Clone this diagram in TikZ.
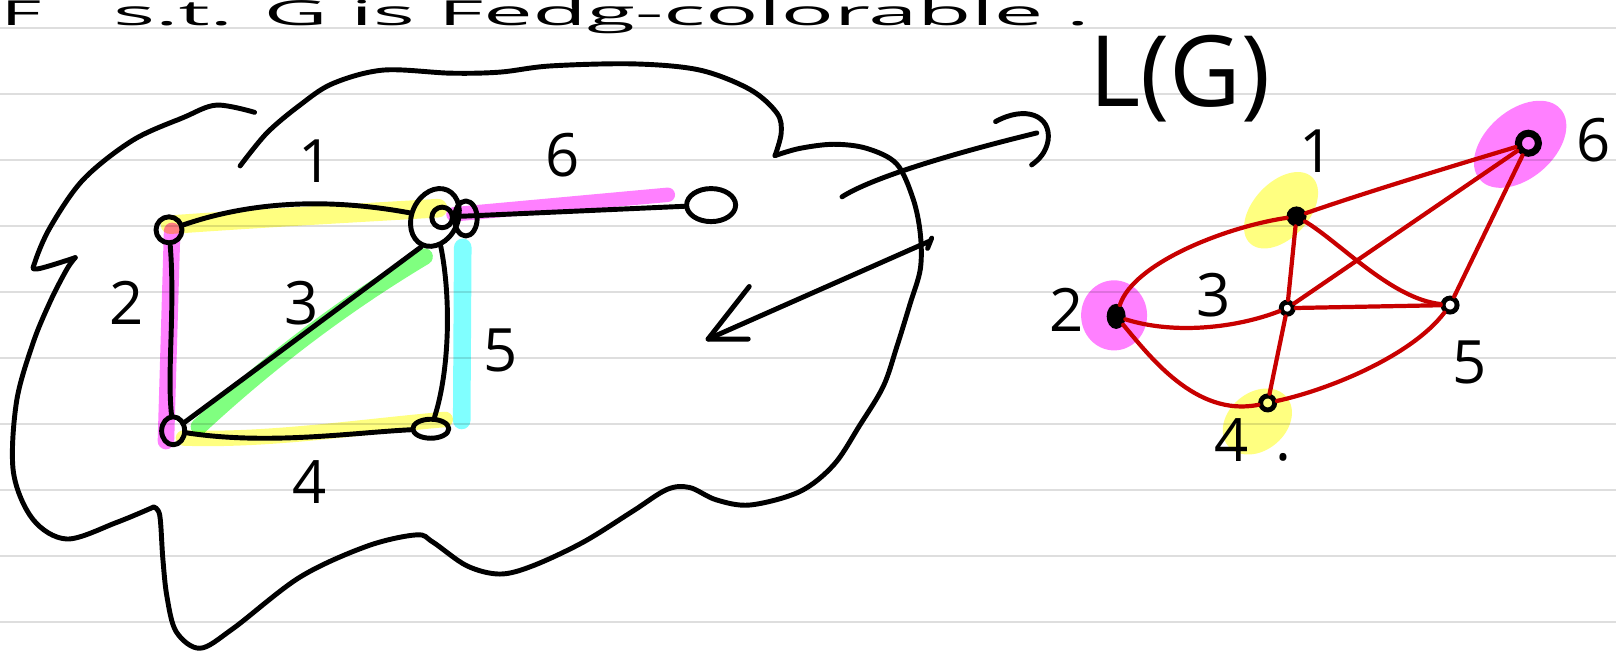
\documentclass[tikz,border=0pt]{standalone}
\usepackage{fontspec}
\setmainfont{Open Sans}
\usetikzlibrary{shapes.geometric}
\definecolor{hlyellow}{RGB}{255,255,128}
\definecolor{hlmagenta}{RGB}{255,128,255}
\definecolor{hlgreen}{RGB}{128,255,128}
\definecolor{hlcyan}{RGB}{128,255,255}
\definecolor{inkred}{RGB}{200,0,0}
\definecolor{ruled}{RGB}{222,222,222}
\begin{document}
\begin{tikzpicture}[x=0.0103061cm, y=-0.0103061cm,
  pen/.style={line width=1.4pt, line cap=round, line join=round, draw=black},
  redpen/.style={line width=1.2pt, line cap=round, line join=round, draw=inkred},
  hl/.style={line cap=round, line join=round},
  ruleline/.style={draw=ruled, line width=0.8pt},
  lbl/.style={font=\fontsize{17}{20}\selectfont, inner sep=0pt},
  vtx/.style={draw=black, line width=1.4pt, circle, inner sep=0pt, minimum size=1.3mm},
]
\useasboundingbox (0,0) rectangle (1568,642);
\clip (0,0) rectangle (1568,642);
\fill[white] (0,0) rectangle (1568,642);
\foreach \k in {0,...,9} \draw[ruleline] (0,{27.2+64.04*\k}) -- (1568,{27.2+64.04*\k});

% header text
\node[anchor=base west, inner sep=0pt] (hdr0) at (0,25) {\scalebox{1.6}[0.7]{\fontsize{14}{16}\selectfont F}};
\node[anchor=base west, inner sep=0pt] (hdr) at (109,25) {\scalebox{1.79}[0.7]{\fontsize{14}{16}\selectfont s.t. G is Fedg-colorable .}};

% highlights (left graph)
\begin{scope}[blend mode=multiply]
\draw[hl, hlyellow, line width=5.3pt] (165,218) .. controls (250,212) and (340,207) .. (425,202);
\draw[hl, hlmagenta, line width=4.7pt] (167,224) -- (161,428);
\draw[hl, hlgreen, line width=4.7pt] (193,414) .. controls (262,350) and (335,295) .. (412,249);
\draw[hl, hlyellow, line width=4.4pt] (178,425) .. controls (260,428) and (350,414) .. (432,407);
\draw[hl, hlcyan, line width=5pt] (449,240) -- (448,408);
\draw[hl, hlmagenta, line width=4.1pt] (440,208) -- (648,189);
% highlights (line graph)
\fill[hlyellow, rotate around={47:(1243,204)}] (1243,204) ellipse [x radius=44, y radius=27];
\fill[hlmagenta] (1081,306) ellipse [x radius=32, y radius=34];
\fill[hlmagenta, rotate around={41:(1475,140)}] (1475,140) ellipse [x radius=52, y radius=33];
\fill[hlyellow, rotate around={40:(1220,409)}] (1220,409) ellipse [x radius=37, y radius=28];
\end{scope}

% cloud
\draw[pen] plot[smooth, tension=0.55] coordinates {(233,161) (259,129) (291,102) (323,81) (372,68) (437,71) (485,70) (534,64) (615,62) (679,68) (728,87) (754,110) (758,129) (752,151)};
\draw[pen] plot[smooth, tension=0.55] coordinates {(752,151) (776,144) (809,140) (841,144) (870,159) (886,193) (893,227) (893,261) (883,295) (870,337) (857,375) (834,413) (809,451) (776,477) (728,490) (695,485) (669,473) (647,475) (614,496) (566,526) (517,549) (485,557) (453,549) (420,526) (404,519) (356,530) (291,560) (226,610) (194,629) (171,613) (162,579) (158,542) (155,500) (149,492)};
\draw[pen] plot[smooth, tension=0.55] coordinates {(149,492) (113,507) (65,523) (32,504) (13,458) (16,390) (32,333) (49,292) (65,261) (73,250)};
\draw[pen] plot[smooth, tension=0.55] coordinates {(73,250) (36,261) (34,254) (49,220) (81,174) (129,136) (178,114) (210,102) (247,109)};

% left graph G
\node[pen, draw, circle, minimum size=2.6mm, inner sep=0pt] (A) at (164,223) {};
\node[pen, draw, ellipse, minimum width=4.6mm, minimum height=6mm, rotate=-25, inner sep=0pt] (B) at (422,211) {};
\draw[pen] (429,211) circle [radius=10];
\draw[pen] (452,212) ellipse [x radius=11, y radius=17];
\node[pen, draw, ellipse, minimum width=2.3mm, minimum height=2.8mm, inner sep=0pt] (C) at (168,418) {};
\node[pen, draw, ellipse, minimum width=3.6mm, minimum height=1.9mm, inner sep=0pt] (D) at (418,416) {};
\node[pen, draw, ellipse, minimum width=4.9mm, minimum height=3.3mm, inner sep=0pt] (E) at (690,199) {};

\draw[pen] (A) .. controls (260,190) and (340,196) .. (B);
\draw[pen] (A) .. controls (170,300) and (162,360) .. (C);
\draw[pen] (C) -- (B.south);
\draw[pen] (C) .. controls (260,432) and (340,420) .. (D);
\draw[pen] (B) .. controls (438,290) and (436,360) .. (D);
\draw[pen] (B) -- (E);

\node[lbl] (l1) at (306,156) {1};
\node[lbl] (l2) at (123,294) {2};
\node[lbl] (l3) at (293,294) {3};
\node[lbl] (l4) at (300,468) {4};
\node[lbl] (l5) at (486,340) {5};
\node[lbl] (l6) at (546,151) {6};

% arrows
\coordinate (a1s) at (817,191);
\coordinate (a1e) at (1006,129);
\draw[pen] (a1s) .. controls (845,173) and (920,150) .. (a1e);
\draw[pen] (966,118) .. controls (995,102) and (1020,112) .. (1017,136) .. controls (1015,148) and (1008,155) .. (1001,160);
\coordinate (a2s) at (902,234);
\coordinate (a2e) at (687,329);
\draw[pen] (a2s) -- (a2e);
\draw[pen] (727,278) -- (a2e) -- (726,329);
\draw[pen] (900,241) -- (904,231);

% line graph L(G)
\node[font=\fontsize{28}{32}\selectfont, inner sep=0pt] (LG) at (1145,76) {L(G)};

\node[vtx, fill=black, minimum size=1.5mm] (V1) at (1258,210) {};
\node[vtx, fill=black, ellipse, minimum width=1.4mm, minimum height=2mm] (V2) at (1083,307) {};
\node[vtx, minimum size=1.2mm] (V3) at (1249,299) {};
\node[vtx, minimum size=1.4mm] (V4) at (1230,391) {};
\node[vtx, minimum size=1.4mm] (V5) at (1407,296) {};
\node[vtx, line width=2pt, minimum size=2mm] (V6) at (1483,139) {};

\draw[redpen] (V1) .. controls (1330,185) and (1420,158) .. (V6);
\draw[redpen] (V1) .. controls (1190,220) and (1100,255) .. (V2);
\draw[redpen] (V1) -- (V3);
\draw[redpen] (V1) .. controls (1300,235) and (1350,290) .. (V5);
\draw[redpen] (V3) -- (V6);
\draw[redpen] (V3) -- (V5);
\draw[redpen] (V5) -- (V6);
\draw[redpen] (V2) .. controls (1140,325) and (1200,318) .. (V3);
\draw[redpen] (V3) -- (V4);
\draw[redpen] (V2) .. controls (1115,345) and (1160,405) .. (V4);
\draw[redpen] (V4) .. controls (1290,378) and (1370,345) .. (V5);

\node[lbl] (m1) at (1277,147) {1};
\node[lbl] (m2) at (1035,301) {2};
\node[lbl] (m3) at (1178,286) {3};
\node[lbl] (m4) at (1195,427) {4};
\node[lbl] (m4dot) at (1245,444) {.};
\node[lbl] (m5) at (1426,352) {5};
\node[lbl] (m6) at (1546,136) {6};
\end{tikzpicture}
\end{document}
